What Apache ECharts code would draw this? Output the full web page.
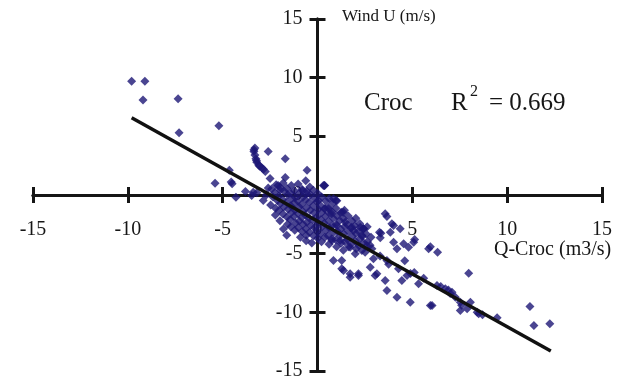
<!DOCTYPE html>
<html>
  <head>
    <meta charset="UTF-8" />
    <title>Croc scatter</title>
    <script src="https://cdn.jsdelivr.net/npm/echarts@6/dist/echarts.min.js"></script>
    <style>
      html, body { margin: 0; padding: 0; background: #fff; }
      #main { width: 622px; height: 384px; }
    </style>
  </head>
  <body>
    <div id="main"></div>
    <script>
      // axis settings
      const axisMin = -15
      const axisMax = 15
      const axisStep = 5

      // regression line end points (Q, U)
      const fitLine = [[-9.8, 6.58], [12.3, -13.3]]
      const r2Text = "= 0.669"

      // scatter points [Q-Croc, Wind U]
      const leftPts = [
        [-9.8, 9.7], [-9.1, 9.7], [-9.2, 8.1], [-7.35, 8.2], [-7.3, 5.3], [-5.2, 5.9],
        [-4.65, 2.1], [-5.4, 1.0], [-4.55, 1.1], [-4.5, 0.95], [-4.3, -0.2], [-3.47, -0.04],
        [-3.2, 0.2], [-2.86, -0.47], [-2.7, 0.0], [-2.08, 0.81], [-3.39, 0.24],
        [-3.3, 4.0], [-3.35, 3.7], [-3.3, 3.4], [-3.25, 3.1], [-3.2, 2.8], [-3.1, 2.55],
        [-2.95, 2.35], [-2.85, 2.2], [-2.75, 2.0], [-3.35, 3.85], [-3.22, 2.95], [-3.05, 2.45],
        [-2.6, 3.7], [-1.7, 3.1], [-0.55, 2.1], [-1.7, 1.5], [-2.5, 1.4], [-1.98, 0.67],
        [0.36, 0.81], [-0.78, 0.38], [-3.8, 0.3], [-2.6, 0.6]
      ]

      const corePts = [
        [-2.42, 0.52], [-2.35, -0.18], [-2.47, -0.85], [-2.18, 0.88], [-2.25, 0.21], [-2.12, -0.47],
        [-2.21, -1.12], [-2.22, -1.7], [-1.97, 0.41], [-2.04, -0.08], [-1.95, -0.72], [-2.02, -1.31],
        [-1.98, -2.2], [-1.81, 1.02], [-1.76, 0.32], [-1.84, -0.38], [-1.78, -1.03], [-1.82, -1.62],
        [-1.8, -2.9], [-1.62, 0.58], [-1.57, 0.02], [-1.63, -0.61], [-1.55, -1.22], [-1.61, -1.88],
        [-1.62, -3.42], [-1.58, -2.5], [-1.38, 0.81], [-1.43, 0.18], [-1.36, -0.33], [-1.41, -0.92],
        [-1.37, -1.49], [-1.44, -2.08], [-1.4, -2.7], [-1.22, 0.37], [-1.17, -0.21], [-1.23, -0.68],
        [-1.19, -1.31], [-1.24, -1.83], [-1.16, -2.38], [-1.2, -3.0], [-1.02, 0.93], [-0.97, 0.12],
        [-1.04, -0.52], [-0.98, -1.01], [-1.03, -1.58], [-0.96, -2.21], [-1.01, -2.78], [-0.9, -3.6],
        [-0.82, 0.48], [-0.77, -0.19], [-0.84, -0.81], [-0.78, -1.38], [-0.83, -1.92], [-0.76, -2.49],
        [-0.81, -3.12], [-0.62, 1.21], [-0.57, 0.31], [-0.63, -0.42], [-0.58, -1.08], [-0.64, -1.71],
        [-0.56, -2.32], [-0.61, -2.88], [-0.6, -3.9], [-0.59, -3.42], [-0.41, 0.68], [-0.37, 0.02],
        [-0.43, -0.61], [-0.38, -1.29], [-0.44, -1.97], [-0.36, -2.61], [-0.42, -3.18], [-0.22, 0.41],
        [-0.17, -0.28], [-0.23, -0.91], [-0.18, -1.52], [-0.24, -2.12], [-0.16, -2.79], [-0.21, -3.48],
        [-0.3, -4.1], [0.02, 0.12], [-0.03, -0.58], [0.04, -1.21], [-0.02, -1.83], [0.03, -2.41],
        [-0.04, -3.02], [0.01, -3.68], [0.22, -0.18], [0.17, -0.92], [0.23, -1.49], [0.18, -2.08],
        [0.24, -2.71], [0.16, -3.31], [0.21, -3.98], [0.38, 0.81], [0.43, -0.52], [0.37, -1.18],
        [0.42, -1.82], [0.36, -2.41], [0.44, -3.02], [0.39, -3.61], [0.62, -0.31], [0.57, -1.02],
        [0.63, -1.58], [0.58, -2.21], [0.64, -2.82], [0.56, -3.48], [0.61, -4.19], [0.82, -0.68],
        [0.77, -1.42], [0.83, -1.98], [0.78, -2.61], [0.84, -3.19], [0.76, -3.88], [1.02, -0.48],
        [0.97, -1.12], [1.03, -1.79], [0.98, -2.52], [1.04, -3.08], [0.96, -3.82], [1.01, -4.41],
        [1.22, -1.52], [1.17, -2.18], [1.23, -2.91], [1.18, -3.48], [1.24, -4.12], [1.42, -1.31],
        [1.37, -2.02], [1.43, -2.68], [1.38, -3.31], [1.44, -3.98], [1.36, -4.71], [1.62, -1.78],
        [1.57, -2.52], [1.63, -3.12], [1.58, -3.79], [1.64, -4.42], [1.82, -2.21], [1.77, -2.81],
        [1.83, -3.52], [1.78, -4.18], [2.02, -1.98], [1.97, -2.62], [2.03, -3.28], [1.98, -3.91],
        [2.04, -4.58], [2.22, -2.42], [2.17, -3.08], [2.23, -3.72], [2.18, -4.31], [2.42, -2.88],
        [2.37, -3.52], [2.43, -4.08], [2.62, -2.71], [2.57, -3.32], [2.63, -3.98], [2.82, -3.61],
        [2.77, -4.28]
      ]

      const rightPts = [
        [0.84, -0.33], [1.37, -1.46], [0.75, -1.6], [1.9, -3.03], [2.42, -2.88], [2.34, -3.45],
        [3.27, -3.17], [3.31, -3.65], [3.57, -1.6], [3.66, -1.83], [3.92, -2.46], [4.01, -2.6],
        [4.36, -2.88], [3.84, -3.17], [4.19, -4.59], [4.54, -4.16], [4.8, -4.45], [5.07, -4.02],
        [5.12, -3.8], [4.01, -4.02], [5.86, -4.59], [5.95, -4.4], [6.33, -4.88], [2.87, -4.59],
        [2.95, -5.44], [3.66, -5.58], [3.75, -5.9], [4.27, -6.29], [4.72, -6.86], [4.9, -6.7],
        [4.45, -7.29], [3.57, -7.29], [3.66, -8.14], [4.19, -8.71], [4.89, -9.14], [5.33, -7.57],
        [5.95, -9.42], [1.72, -7.0], [1.37, -6.44], [2.16, -6.86], [3.04, -6.86], [0.84, -5.58],
        [1.28, -5.58], [1.28, -6.29], [1.72, -6.72], [2.16, -6.72], [2.78, -6.15], [3.13, -6.72],
        [1.99, -5.01], [2.34, -4.73], [1.02, -2.6], [0.75, -3.73], [1.19, -3.88], [1.72, -4.45],
        [2.6, -4.3], [2.51, -4.88], [0.58, -1.18], [0.05, -0.47], [-0.57, 0.1], [0.31, 0.81],
        [0.4, -1.18], [0.98, -0.47], [1.28, -1.46], [1.46, -2.32], [1.81, -2.74], [2.25, -2.74],
        [3.34, -3.26], [2.43, -2.88], [5.1, -6.6], [5.6, -7.1], [3.3, -5.2], [4.6, -5.6]
      ]

      const tailPts = [
        [6.3, -7.72], [6.74, -8.0], [6.9, -8.1], [7.09, -8.28], [7.27, -8.71], [7.53, -9.14],
        [7.53, -9.85], [7.89, -9.7], [8.06, -9.14], [8.42, -9.99], [8.5, -10.13], [8.7, -10.2],
        [9.47, -10.47], [7.97, -6.67], [6.04, -9.42], [11.2, -9.5], [11.41, -11.13], [12.25, -10.98],
        [6.5, -7.8], [7.0, -8.4], [7.6, -9.4]
      ]

      const allPts = leftPts.concat(corePts, rightPts, tailPts)

      const serif = "Liberation Serif"
      const ink = "#161616"

      // grid box; the axes cross in its middle since the range is symmetric
      const gridBox = { left: 33, right: 20, top: 19, bottom: 13 }
      const midY = (384 - gridBox.top - gridBox.bottom) / 2
      const midX = (622 - gridBox.left - gridBox.right) / 2

      function axis(position, offset, withLabels) {
        return {
          type: "value",
          position: position,
          offset: offset,
          min: axisMin,
          max: axisMax,
          interval: axisStep,
          splitLine: { show: false },
          axisLine: { onZero: false, lineStyle: { color: ink, width: 3 } },
          axisTick: { show: true, length: 8, lineStyle: { color: ink, width: 3 } },
          axisLabel: withLabels
            ? { margin: position === "bottom" ? 25 : 15, fontFamily: serif, fontSize: 20, color: ink }
            : { show: false },
        }
      }

      const chart = echarts.init(document.getElementById("main"))
      chart.setOption({
        animation: false,
        grid: Object.assign({ outerBoundsMode: "none", containLabel: false }, gridBox),
        xAxis: [axis("bottom", -midY, true), axis("top", -midY, false)],
        yAxis: [axis("left", -midX, true), axis("right", -midX, false)],
        series: [
          {
            type: "scatter",
            data: allPts,
            symbol: "diamond",
            symbolSize: 9,
            itemStyle: { color: "#1d1675" },
            z: 3,
          },
          {
            type: "line",
            data: fitLine,
            symbol: "none",
            lineStyle: { color: "#111", width: 3.5 },
            z: 4,
          },
        ],
        graphic: [
          {
            type: "text",
            left: 342,
            top: 8,
            style: { text: "Wind U (m/s)", font: "17px " + serif, fill: ink },
          },
          {
            type: "text",
            left: 494,
            top: 240,
            style: { text: "Q-Croc (m3/s)", font: "20px " + serif, fill: ink },
          },
          {
            type: "text",
            left: 364,
            top: 91,
            style: { text: "Croc", font: "25px " + serif, fill: ink },
          },
          {
            type: "text",
            left: 451,
            top: 91,
            style: { text: "R", font: "25px " + serif, fill: ink },
          },
          {
            type: "text",
            left: 470,
            top: 84,
            style: { text: "2", font: "16px " + serif, fill: ink },
          },
          {
            type: "text",
            left: 489,
            top: 91,
            style: { text: r2Text, font: "25px " + serif, fill: ink },
          },
        ],
      })
    </script>
  </body>
</html>
